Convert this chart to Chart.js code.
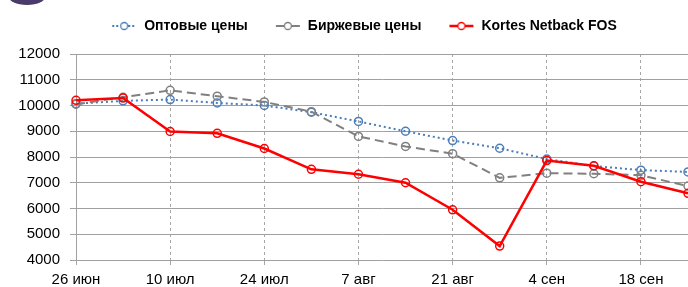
<!DOCTYPE html>
<html>
<head>
<meta charset="utf-8">
<script src="https://cdn.jsdelivr.net/npm/chart.js@4/dist/chart.umd.min.js"></script>
<style>
  html, body { margin: 0; padding: 0; background: #fff; overflow: hidden; width: 688px; height: 287px; }
  #wrap { position: relative; width: 694px; height: 287px; }
  #logo { position: absolute; left: 8px; top: -14px; width: 38px; height: 19px; border-radius: 50%; background: #4b3b6b; }
</style>
</head>
<body>
<div id="wrap">
  <canvas id="chart"></canvas>
  <div id="logo"></div>
</div>
<script>
// weekly dates, tick labels shown every two weeks
const dates = ['26 июн', '3 июл', '10 июл', '17 июл', '24 июл', '31 июл', '7 авг',
               '14 авг', '21 авг', '28 авг', '4 сен', '11 сен', '18 сен', '25 сен'];

const wholesalePrices = [10070, 10180, 10230, 10100, 10000, 9740, 9380, 9000, 8640, 8340, 7920, 7650, 7490, 7420];
const exchangePrices  = [10050, 10320, 10590, 10360, 10140, 9760, 8800, 8410, 8130, 7190, 7370, 7350, 7290, 6870];
const kortesNetback   = [10200, 10290, 8990, 8920, 8330, 7520, 7330, 7000, 5950, 4540, 7860, 7660, 7040, 6590];

const seriesNames = ['Оптовые цены', 'Биржевые цены', 'Kortes Netback FOS'];

const font = "'Liberation Sans', Arial, sans-serif";

// small legend sample: line with an open circle in the middle
function legendSample(color, dash, width) {
    const c = document.createElement('canvas');
    c.width = 26;
    c.height = 12;
    const g = c.getContext('2d');
    g.strokeStyle = color;
    g.lineWidth = width;
    g.setLineDash(dash);
    g.beginPath();
    g.moveTo(1, 6);
    g.lineTo(25, 6);
    g.stroke();
    g.setLineDash([]);
    g.lineWidth = 1.3;
    g.beginPath();
    g.arc(13, 6, 3.5, 0, Math.PI * 2);
    g.fillStyle = '#fff';
    g.fill();
    g.stroke();
    return c;
}

const datasets = [
    {
        label: seriesNames[0],
        data: wholesalePrices,
        borderColor: '#4a7ebb',
        borderWidth: 2,
        borderDash: [2, 3],
        pointRadius: 4,
        pointBorderWidth: 1.5,
        pointBackgroundColor: 'rgba(0,0,0,0)',
        pointBorderColor: '#4a7ebb',
        order: 2,
        sample: legendSample('#4a7ebb', [2, 2], 2)
    },
    {
        label: seriesNames[1],
        data: exchangePrices,
        borderColor: '#808080',
        borderWidth: 2,
        borderDash: [9, 5],
        pointRadius: 4,
        pointBorderWidth: 1.5,
        pointBackgroundColor: 'rgba(0,0,0,0)',
        pointBorderColor: '#808080',
        order: 1,
        sample: legendSample('#808080', [], 2)
    },
    {
        label: seriesNames[2],
        data: kortesNetback,
        borderColor: '#ff0000',
        borderWidth: 2.5,
        pointRadius: 4,
        pointBorderWidth: 1.5,
        pointBackgroundColor: 'rgba(0,0,0,0)',
        pointBorderColor: '#ff0000',
        order: 0,
        sample: legendSample('#ff0000', [], 2.5)
    }
];

// the legend in the original is not centred on the visible part, move it a bit
const legendShift = {
    id: 'legendShift',
    beforeDraw(chart) {
        const lg = chart.legend;
        lg.left = 40;
        lg.right = 688;
        lg.top -= 11;
        lg.bottom -= 11;
    },
    afterDraw(chart) {
        chart.legend.top += 11;
        chart.legend.bottom += 11;
    }
};

const ctx = document.getElementById('chart').getContext('2d');
new Chart(ctx, {
    type: 'line',
    data: { labels: dates, datasets: datasets },
    plugins: [legendShift],
    options: {
        responsive: true,
        maintainAspectRatio: false,
        animation: false,
        layout: { padding: { left: 0, right: 0, top: 3, bottom: 0 } },
        elements: { line: { tension: 0 } },
        plugins: {
            tooltip: { enabled: false },
            legend: {
                position: 'top',
                labels: {
                    usePointStyle: true,
                    pointStyleWidth: 26,
                    padding: 27,
                    color: '#000',
                    font: { family: font, size: 14, weight: 'bold' },
                    generateLabels: function(chart) {
                        return chart.data.datasets.map((ds, i) => ({
                            text: ds.label,
                            pointStyle: ds.sample,
                            fontColor: '#000',
                            lineWidth: 0,
                            strokeStyle: 'rgba(0,0,0,0)',
                            fillStyle: 'rgba(0,0,0,0)',
                            datasetIndex: i
                        }));
                    }
                }
            }
        },
        scales: {
            x: {
                type: 'category',
                offset: false,
                grid: {
                    color: c => (c.index % 2 === 0 ? '#a6a6a6' : 'rgba(0,0,0,0)'),
                    tickLength: 5,
                    lineWidth: 1
                },
                border: { display: false, dash: [3, 3] },
                ticks: {
                    autoSkip: false,
                    maxRotation: 0,
                    color: '#000',
                    padding: 6,
                    font: { family: font, size: 15 },
                    callback: function(value, index) {
                        return index % 2 === 0 ? dates[index] : '';
                    }
                },
                afterFit: s => { s.height = 27; }
            },
            y: {
                min: 4000,
                max: 12000,
                ticks: {
                    stepSize: 1000,
                    color: '#000',
                    padding: 10,
                    font: { family: font, size: 15 },
                    callback: v => String(v)
                },
                grid: { color: '#a0a0a0', tickLength: 6, lineWidth: 1 },
                border: { display: true, color: '#a0a0a0' },
                afterFit: s => { s.width = 76; }
            }
        }
    }
});
</script>
</body>
</html>
